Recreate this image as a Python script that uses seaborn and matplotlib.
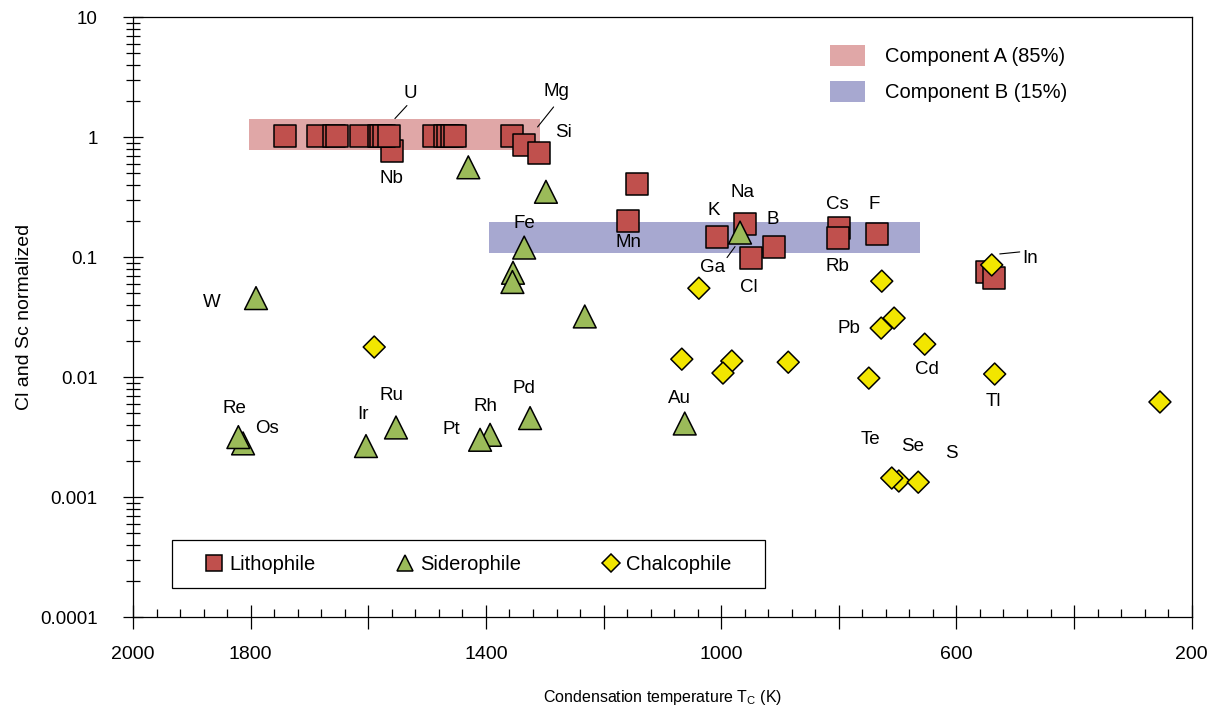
import matplotlib
matplotlib.use("Agg")
import matplotlib.pyplot as plt
from matplotlib import font_manager
from matplotlib.lines import Line2D
from matplotlib.patches import Patch, Rectangle
from matplotlib.ticker import FixedLocator, MultipleLocator, LogLocator, FuncFormatter, NullFormatter
from matplotlib.transforms import offset_copy
import pandas as pd
import seaborn as sns

# lithophile elements (Nb first so the row covers it)
litho_el = ["Nb", "Zr", "Hf", "Sc", "Al", "Th", "Ti", "La", "Ta", "U", "Yb", "Ce", "Sr", "Ba", "Be",
            "Eu", "Mg", "Si", "Li", "Mn", "K", "Na", "Cl", "B", "Cs", "Rb", "F", "Br", "I"]
litho_tc = [1559, 1742, 1686, 1659, 1653, 1612, 1582, 1578, 1573, 1565, 1488, 1470, 1464, 1457, 1452,
            1356, 1336, 1310, 1143, 1158, 1007, 960, 949, 910, 800, 802, 735, 548, 536]
litho_ci = [0.76, 1.03, 1.03, 1.03, 1.03, 1.03, 1.03, 1.03, 1.03, 1.03, 1.03, 1.03, 1.03, 1.03, 1.03,
            1.03, 0.86, 0.74, 0.41, 0.20, 0.147, 0.19, 0.098, 0.121, 0.174, 0.144, 0.155, 0.075, 0.067]

# siderophile elements
sidero_el = ["V", "Cr", "Fe", "Co", "Ni", "P", "W", "Os", "Re", "Ir", "Ru", "Rh", "Pt", "Pd", "Au", "Ga"]
sidero_tc = [1430, 1298, 1335, 1354, 1355, 1232, 1791, 1813, 1821, 1604, 1553, 1393, 1410, 1325, 1062, 968]
sidero_ci = [0.56, 0.35, 0.12, 0.074, 0.062, 0.032, 0.0455, 0.0028, 0.00316, 0.00266, 0.0038, 0.0033,
             0.0030, 0.00455, 0.0041, 0.16]

# chalcophile elements
chalco_el = ["Mo", "Cu", "As", "Sb", "Ag", "Ge", "Zn", "Bi", "Sn", "Pb", "Cd", "In", "Tl", "Hg", "Se", "Te", "S"]
chalco_tc = [1590, 1038, 1067, 982, 997, 886, 727, 749, 706, 728, 654, 540, 535, 254, 698, 710, 665]
chalco_ci = [0.0178, 0.055, 0.0141, 0.0136, 0.0108, 0.0133, 0.063, 0.0098, 0.031, 0.0256, 0.0188, 0.086,
             0.0106, 0.0062, 0.00136, 0.00144, 0.00133]

groups = ["Lithophile", "Siderophile", "Chalcophile"]
group_colors = ["#C0504D", "#9BBB59", "#F2E600"]
group_markers = ["s", "^", "D"]

# mixing components (Tc range, CI range)
comp_labels = ["Component A (85%)", "Component B (15%)"]
comp_tc = [(1803, 1308), (1395, 662)]
comp_ci = [(0.78, 1.41), (0.108, 0.196)]
comp_colors = ["#E0A7A7", "#A7A8D0"]

x_ticks = [2000, 1800, 1600, 1400, 1200, 1000, 800, 600, 400, 200]
x_ticklabels = ["2000", "1800", "", "1400", "", "1000", "", "600", "", "200"]

# label offsets from the marker, in pixels
label_offsets = {
    "U": (21, 42), "Mg": (33, 53), "Si": (25, 20), "Nb": (-1, -27), "Fe": (0, 24), "Mn": (0, -22),
    "K": (-3, 27), "Na": (-2, 31), "B": (-1, 28), "Ga": (-27, -35), "Cl": (-2, -29), "Cs": (-1, 24),
    "F": (-3, 30), "Rb": (0, -28), "In": (38, 6), "Pb": (-32, 0), "Cd": (2, -25), "Tl": (-1, -27),
    "Te": (-21, 39), "Se": (14, 35), "S": (33, 29), "Au": (-5, 25), "Pd": (-6, 30), "Rh": (-5, 28),
    "Pt": (-29, 10), "Ir": (-3, 32), "Ru": (-5, 32), "Re": (-4, 29), "Os": (24, 15), "W": (-44, -4),
}
leaders = {"U": ((18, 30), (6, 17)), "Mg": ((30, 38), (14, 18)),
           "Ga": ((-13, -25), (-5, -14)), "In": ((8, 11), (28, 13))}

df = pd.concat([
    pd.DataFrame({"el": litho_el, "tc": litho_tc, "ci": litho_ci, "group": groups[0]}),
    pd.DataFrame({"el": sidero_el, "tc": sidero_tc, "ci": sidero_ci, "group": groups[1]}),
    pd.DataFrame({"el": chalco_el, "tc": chalco_tc, "ci": chalco_ci, "group": groups[2]}),
], ignore_index=True)

sns.set_theme(style="ticks", rc={"axes.edgecolor": "black", "xtick.color": "black", "ytick.color": "black",
                                 "text.color": "black", "axes.labelcolor": "black"})
plt.rcParams["font.family"] = ["Liberation Sans", "DejaVu Sans"]

# the x axis title is set in a narrow face
installed = {f.name for f in font_manager.fontManager.ttflist}
if "Liberation Sans Narrow" in installed:
    xlabel_font = dict(family=["Liberation Sans Narrow", "Liberation Sans"], fontsize=14)
else:
    xlabel_font = dict(family=["Liberation Sans", "DejaVu Sans"], fontsize=11.5)

fig, ax = plt.subplots(figsize=(12.21, 7.13), dpi=100)
fig.subplots_adjust(left=0.109, right=0.976, bottom=0.1346, top=0.976)
ax.set_yscale("log")
ax.set_ylim(1e-4, 10)
ax.set_xlim(2000, 200)

for (t0, t1), (c0, c1), col in zip(comp_tc, comp_ci, comp_colors):
    ax.fill_between([t0, t1], c0, c1, color=col, lw=0, zorder=1)

sns.scatterplot(data=df, x="tc", y="ci", hue="group", style="group", size="group",
                hue_order=groups, palette=dict(zip(groups, group_colors)),
                markers=dict(zip(groups, group_markers)),
                sizes=dict(zip(groups, [250, 270, 125])),
                edgecolor="black", linewidth=1.1, legend=False, ax=ax, zorder=3)

for _, row in df.iterrows():
    if row.el in label_offsets:
        ax.annotate(row.el, xy=(row.tc, row.ci), xytext=label_offsets[row.el], textcoords="offset pixels",
                    ha="center", va="center", fontsize=13.5)
    if row.el in leaders:
        (x0, y0), (x1, y1) = leaders[row.el]
        ax.annotate("", xy=(row.tc, row.ci),
                    xycoords=offset_copy(ax.transData, fig=fig, x=x1, y=y1, units="dots"),
                    xytext=(row.tc, row.ci),
                    textcoords=offset_copy(ax.transData, fig=fig, x=x0, y=y0, units="dots"),
                    arrowprops=dict(arrowstyle="-", color="black", lw=0.8, shrinkA=0, shrinkB=0))

# axes and ticks
ax.xaxis.set_major_locator(FixedLocator(x_ticks))
ax.set_xticklabels(x_ticklabels)
ax.xaxis.set_minor_locator(MultipleLocator(40))
ax.yaxis.set_major_locator(LogLocator(base=10, numticks=10))
ax.yaxis.set_major_formatter(FuncFormatter(lambda v, _: f"{v:g}"))
ax.yaxis.set_minor_locator(LogLocator(base=10, subs=range(2, 10), numticks=20))
ax.yaxis.set_minor_formatter(NullFormatter())
ax.tick_params(axis="x", which="major", direction="inout", length=17, width=0.9, pad=12, labelsize=14)
ax.tick_params(axis="x", which="minor", direction="in", length=6, width=0.9)
ax.tick_params(axis="y", which="major", direction="inout", length=15, width=0.9, pad=18, labelsize=13.5)
ax.tick_params(axis="y", which="minor", direction="inout", length=10, width=0.9)
for sp in ax.spines.values():
    sp.set_linewidth(0.9)

ax.set_xlabel("Condensation temperature T$_\\mathregular{C}$ (K)", **xlabel_font)
ax.set_ylabel("Cl and Sc normalized", fontsize=14)
ax.xaxis.set_label_coords(0.5, -0.118)
ax.yaxis.set_label_coords(-0.095, 0.5)

# component legend (top right)
comp_handles = [Patch(facecolor=c, edgecolor="none", label=l) for l, c in zip(comp_labels, comp_colors)]
leg1 = ax.legend(handles=comp_handles, loc="upper left", bbox_to_anchor=(0.658, 0.953), frameon=False,
                 borderpad=0, borderaxespad=0, handlelength=1.75, handleheight=1.2, handletextpad=1.0,
                 labelspacing=0.73, fontsize=14.5)
ax.add_artist(leg1)

# group legend (bottom left, boxed)
grp_handles = [Line2D([], [], marker=m, ls="none", markerfacecolor=c, markeredgecolor="black",
                      markeredgewidth=1.1, markersize=ms, label=g)
               for g, c, m, ms in zip(groups, group_colors, group_markers, [12, 12, 9])]
ax.legend(handles=grp_handles, loc="center left", bbox_to_anchor=(0.068, 0.088), ncol=3, frameon=False,
          borderpad=0, borderaxespad=0, handlelength=0.9, handletextpad=0.3, columnspacing=4.0, fontsize=14.5)
ax.add_patch(Rectangle((0.0368, 0.0483), 0.560, 0.08, transform=ax.transAxes, fill=False,
                       edgecolor="black", lw=0.9, zorder=2))

fig.savefig("out.png", dpi=100)
